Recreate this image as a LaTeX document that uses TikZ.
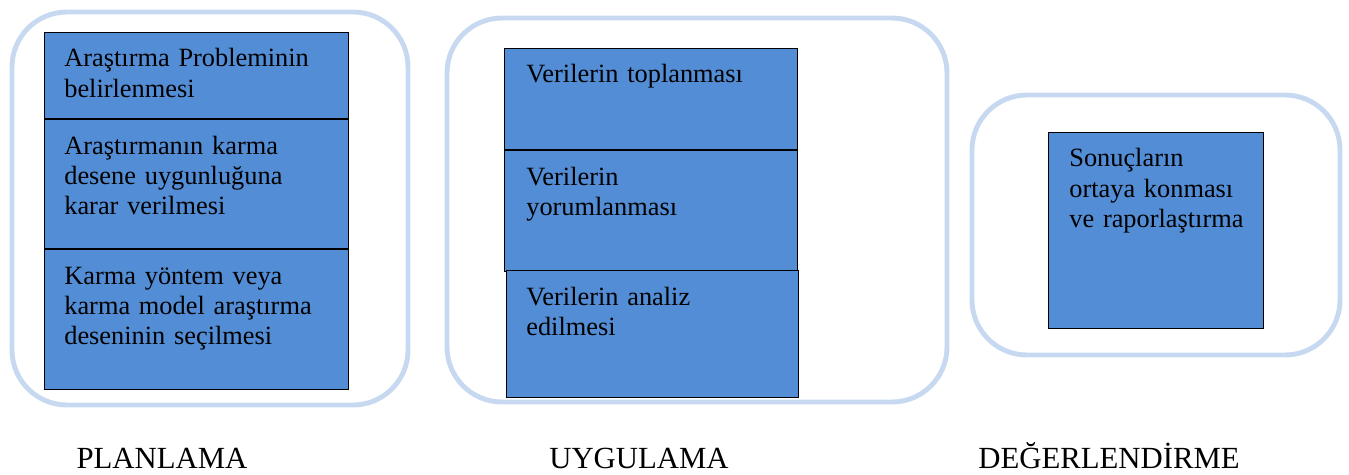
\documentclass[tikz,border=0pt]{standalone}
\usepackage{fontspec}
\setmainfont{Liberation Serif}
\usetikzlibrary{positioning}
\definecolor{stepblue}{RGB}{83,141,213}
\definecolor{phaseblue}{RGB}{198,217,240}
\tikzset{
    phasebox/.style = {draw=phaseblue, line width=2.8pt, rounded corners=1.1cm},
    task/.style = {rectangle, draw, fill=stepblue, line width=0.6pt, inner sep=0pt, anchor=north west},
    tasktext/.style = {text width=6cm, align=left, inner sep=0pt, font=\fontsize{15}{17.2}\selectfont},
    phase/.style = {font=\fontsize{17.5}{21}\selectfont, anchor=base, inner sep=0pt}}

\begin{document}
\begin{tikzpicture}[x=0.02cm, y=-0.02cm]
    \useasboundingbox (0,0) rectangle (1349,474);
    % phases
    \draw[phasebox] (12,12) rectangle (408,405);
    \draw[phasebox] (447,18) rectangle (947,402);
    \draw[phasebox] (972,95) rectangle (1340,355);
    % planning
    \node[task, minimum width=6.08cm, minimum height=1.72cm] (P1) at (44,32) {};
    \node[task, minimum width=6.08cm, minimum height=2.58cm, below=0pt of P1] (P2) {};
    \node[task, minimum width=6.08cm, minimum height=2.8cm, below=0pt of P2] (P3) {};
    \node[tasktext, below right=0.7cm and 0.4cm of P1.north west, anchor=base west] (P1t) {Araştırma Probleminin\\belirlenmesi};
    \node[tasktext, below right=0.7cm and 0.4cm of P2.north west, anchor=base west] (P2t) {Araştırmanın karma\\desene uygunluğuna\\karar verilmesi};
    \node[tasktext, below right=0.7cm and 0.4cm of P3.north west, anchor=base west] (P3t) {Karma yöntem veya\\karma model araştırma\\deseninin seçilmesi};
    % application
    \node[task, minimum width=5.86cm, minimum height=2.02cm] (U1) at (504,48) {};
    \node[task, minimum width=5.86cm, minimum height=2.42cm, below=0pt of U1] (U2) {};
    \node[task, minimum width=5.84cm, minimum height=2.54cm] (U3) at (506,270) {};
    \node[tasktext, below right=0.7cm and 0.44cm of U1.north west, anchor=base west] (U1t) {Verilerin toplanması};
    \node[tasktext, below right=0.7cm and 0.44cm of U2.north west, anchor=base west] (U2t) {Verilerin\\yorumlanması};
    \node[tasktext, below right=0.7cm and 0.4cm of U3.north west, anchor=base west] (U3t) {Verilerin analiz\\edilmesi};
    % evaluation
    \node[task, minimum width=4.3cm, minimum height=3.92cm] (D1) at (1048,132) {};
    \node[tasktext, below right=0.7cm and 0.42cm of D1.north west, anchor=base west] (D1t) {Sonuçların\\ortaya konması\\ve raporlaştırma};
    % phase names
    \node[phase] (plan) at (162,468) {PLANLAMA};
    \node[phase] (apply) at (639,468) {UYGULAMA};
    \node[phase] (eval) at (1109,468) {DEĞERLENDİRME};
\end{tikzpicture}
\end{document}
